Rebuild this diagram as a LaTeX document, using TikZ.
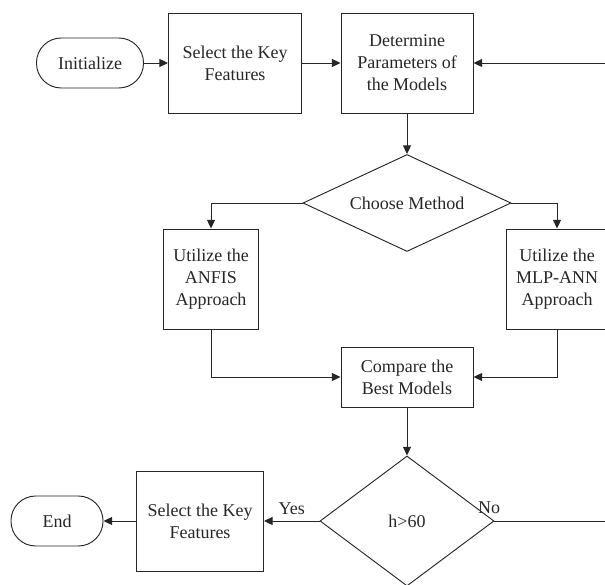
\documentclass[tikz,border=0pt]{standalone}
\usepackage{fontspec}
\setmainfont{Liberation Serif}
\usetikzlibrary{shapes.geometric,arrows.meta}

\tikzset{
  flowline/.style={line width=0.7pt, draw=black!85, -{Triangle[length=6.5pt,width=6pt]}},
  plainline/.style={line width=0.7pt, draw=black!85},
  stepbox/.style={draw=black!85, line width=0.7pt, rectangle, align=center, inner sep=0pt,
    minimum width=#1, minimum height=75pt},
  termbox/.style={draw=black!85, line width=0.7pt, rectangle, rounded corners=18.5pt,
    minimum width=#1, minimum height=37.5pt, inner sep=0pt},
  choicebox/.style={draw=black!85, line width=0.7pt, diamond, inner sep=0pt, align=center},
  every node/.style={font=\fontsize{13.5}{16.5}\selectfont, text=black!85},
}

\begin{document}
\begin{tikzpicture}[x=0.75pt, y=-0.75pt]

    % Fix the page to the size of the reference and cut what runs off it
    \useasboundingbox (0,0) rectangle (605,584);
    \clip (0,0) rectangle (605,584);

    % Top row: start, feature selection, parameters
    \node[termbox=80.25pt] (init) at (90,63) {Initialize};
    \node[stepbox=99.75pt] (selA) at (235,63) {Select the Key\\Features};
    \node[stepbox=99pt] (param) at (407,63) {Determine\\Parameters of\\the Models};

    % Loop back from the right border
    \coordinate (back) at (605,63);

    % Choice of method
    \node[choicebox, shape aspect=2.14, minimum width=156pt, minimum height=72.75pt] (choose) at (407,203) {Choose Method};

    % The two approaches
    \node[stepbox=71.25pt] (anfis) at (211,279) {Utilize the\\ANFIS\\Approach};
    \node[stepbox=76.5pt] (mlp) at (557,279) {Utilize the\\MLP-ANN\\Approach};

    % Comparison
    \node[stepbox=99pt, minimum height=45pt] (comp) at (407,377) {Compare the\\Best Models};

    % Decision and the end
    \node[choicebox, shape aspect=1.34, minimum width=130.5pt, minimum height=97.5pt] (check) at (407,521) {h>60};
    \node[stepbox=95.25pt] (selB) at (200,521) {Select the Key\\Features};
    \node[termbox=69pt] (fin) at (57,521) {End};

    % The "No" branch leaves through the right border
    \coordinate (out) at (605,521);

    % Connectors
    \draw[flowline] (init) -- (selA);
    \draw[flowline] (selA) -- (param);
    \draw[flowline] (back) -- (param);
    \draw[flowline] (param) -- (choose);
    \draw[flowline] (choose.west) -| (anfis.north);
    \draw[flowline] (choose.east) -| (mlp.north);
    \draw[flowline] (anfis.south) |- (comp.west);
    \draw[flowline] (mlp.south) |- (comp.east);
    \draw[flowline] (comp) -- (check);
    \draw[flowline] (check.west) -- node[above=1pt] {Yes} (selB.east);
    \draw[flowline] (selB) -- (fin);
    \draw[plainline] (check.east) -- node[pos=0, above=2pt, xshift=-4pt] (no) {No} (out);

\end{tikzpicture}
\end{document}
